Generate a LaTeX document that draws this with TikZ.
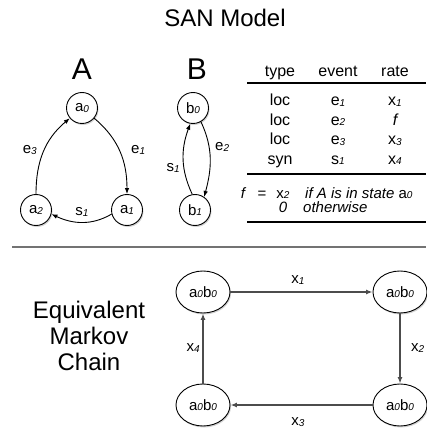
\documentclass[tikz,border=0pt]{standalone}
\usepackage{fontspec}
\setmainfont{Liberation Sans}
\usetikzlibrary{arrows.meta,shapes.geometric,shadows}
\newcommand{\ix}[1]{\raisebox{-0.5pt}{\fontsize{10}{10}\selectfont\itshape #1}}
\newcommand{\fsz}[1]{\fontsize{#1}{#1}\selectfont}
\begin{document}
\begin{tikzpicture}[x=1pt,y=1pt]
\tikzstyle{every node}+=[inner sep=0pt]
\tikzstyle{state}=[draw,line width=0.9pt,circle,minimum size=31pt,fill=white,drop shadow={shadow xshift=1pt,shadow yshift=-1.5pt,opacity=0.35},font=\fsz{15}]
\tikzstyle{mstate}=[draw,line width=0.9pt,ellipse,minimum width=54pt,minimum height=42pt,fill=white,drop shadow={shadow xshift=1pt,shadow yshift=-1.5pt,opacity=0.35},font=\fsz{15}]
\tikzstyle{trans}=[-{Latex[length=6pt,width=4.5pt]},line width=0.9pt]
\tikzstyle{mtrans}=[-{Latex[length=6.5pt,width=5pt]},line width=1.3pt,black!70]
\tikzstyle{lbl}=[font=\fsz{15}]
\tikzstyle{cell}=[anchor=base,font=\fsz{16}]
\tikzstyle{rule}=[line width=2.5pt]
\useasboundingbox (0,0) rectangle (426,-430);
\node[anchor=base,font=\fsz{24}] (title) at (225,-27) {SAN Model};
\node[anchor=base,font=\fsz{30}] (nameA) at (82,-80) {A};
\node[anchor=base,font=\fsz{30}] (nameB) at (197,-80) {B};
\node[state] (a0) at (82,-108) {a\ix{0}};
\node[state] (a1) at (127,-210) {a\ix{1}};
\node[state] (a2) at (36,-210) {a\ix{2}};
\node[state] (b0) at (193,-108) {b\ix{0}};
\node[state] (b1) at (195,-210) {b\ix{1}};
\draw[trans] (a0.-40) to[out=-40,in=90] (a1.north);
\node[lbl,anchor=west] (le1) at (131,-150) {e\ix{1}};
\draw[trans] (a2.north) to[out=90,in=-140] (a0.-140);
\node[lbl,anchor=east] (le3) at (37,-150) {e\ix{3}};
\draw[trans] (a1.195) to[out=210,in=-25] (a2.-15);
\node[lbl] (ls1a) at (82,-212) {s\ix{1}};
\draw[trans] (b0.-60) to[out=-65,in=75] (b1.55);
\node[lbl,anchor=west] (le2) at (215,-147) {e\ix{2}};
\draw[trans] (b1.100) to[out=115,in=-110] (b0.-100);
\node[lbl,anchor=east] (ls1b) at (180,-168) {s\ix{1}};
\node[cell] (htype) at (280,-77) {type};
\node[cell] (hevent) at (338,-77) {event};
\node[cell] (hrate) at (395,-77) {rate};
\draw[rule] (247,-83) -- (426,-83);
\node[cell] (t1) at (280,-106) {loc};
\node[cell] (t2) at (280,-125.5) {loc};
\node[cell] (t3) at (280,-145) {loc};
\node[cell] (t4) at (280,-164.5) {syn};
\node[cell] (v1) at (338,-106) {e\ix{1}};
\node[cell] (v2) at (338,-125.5) {e\ix{2}};
\node[cell] (v3) at (338,-145) {e\ix{3}};
\node[cell] (v4) at (338,-164.5) {s\ix{1}};
\node[cell] (r1) at (395,-106) {x\ix{1}};
\node[cell] (r2) at (395,-125.5) {\itshape f};
\node[cell] (r3) at (395,-145) {x\ix{3}};
\node[cell] (r4) at (395,-164.5) {x\ix{4}};
\draw[rule] (247,-174) -- (426,-174);
\node[cell,font=\fsz{15}] (ff) at (243,-198) {\itshape f};
\node[cell,font=\fsz{15}] (feq) at (262,-198) {=};
\node[cell,font=\fsz{15}] (fx) at (283,-198) {x\ix{2}};
\node[cell,font=\fsz{15},anchor=base west] (fif) at (305,-198) {\itshape if A is in state \upshape a\ix{0}};
\node[cell,font=\fsz{15}] (fz) at (283,-212) {\itshape 0};
\node[cell,font=\fsz{15},anchor=base west] (fot) at (303,-212) {\itshape otherwise};
\draw[rule] (247,-222) -- (426,-222);
\draw[black!55,line width=1.8pt] (12,-247) -- (426,-247);
\node[align=center,font=\fsz{24},text depth=0pt] (chain) at (89,-336) {Equivalent\\[2pt]Markov\\[2pt]Chain};
\node[mstate] (m00) at (203,-292) {a\ix{0}b\ix{0}};
\node[mstate] (m01) at (400,-292) {a\ix{0}b\ix{0}};
\node[mstate] (m11) at (400,-405) {a\ix{0}b\ix{0}};
\node[mstate] (m10) at (203,-405) {a\ix{0}b\ix{0}};
\draw[mtrans] (m00.east) -- (m01.west);
\node[lbl] (lx1) at (298,-280) {x\ix{1}};
\draw[mtrans] (m01.south) -- (m11.north);
\node[lbl,anchor=west] (lx2) at (411,-348) {x\ix{2}};
\draw[mtrans] (m11.west) -- (m10.east);
\node[lbl] (lx3) at (298,-422) {x\ix{3}};
\draw[mtrans] (m10.north) -- (m00.south);
\node[lbl,anchor=east] (lx4) at (200,-348) {x\ix{4}};
\end{tikzpicture}
\end{document}
